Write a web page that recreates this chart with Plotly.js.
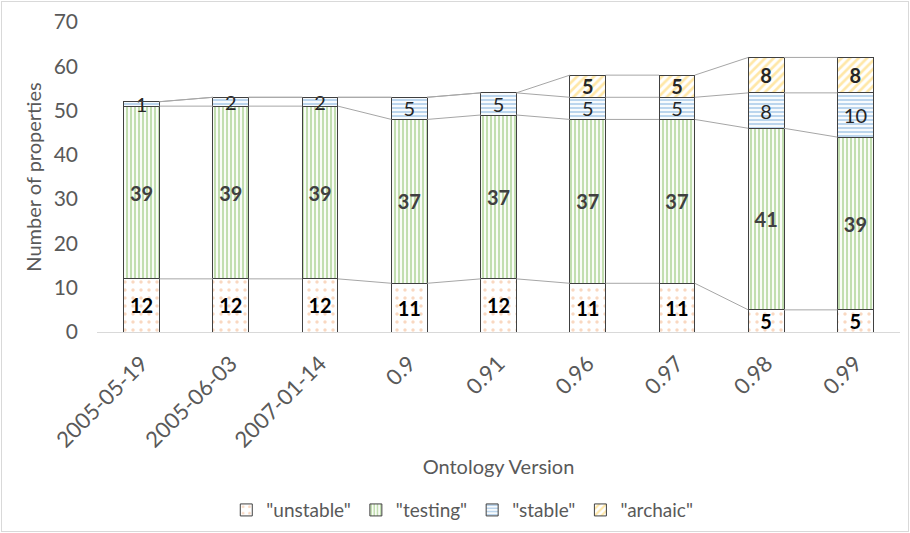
<!DOCTYPE html>
<html><head><meta charset="utf-8">
<script src="https://cdn.plot.ly/plotly-3.0.1.min.js"></script>
<style>
html,body{margin:0;padding:0;background:#fff;}
#frame{position:absolute;left:1px;top:1px;width:906px;height:529px;border:1px solid #d9d9d9;}
#chart{position:absolute;left:0;top:0;width:910px;height:533px;}
</style></head>
<body>
<div id="frame"></div>
<div id="chart"></div>
<script>
const versions = ["2005-05-19","2005-06-03","2007-01-14","0.9","0.91","0.96","0.97","0.98","0.99"];
const unstable = [12,12,12,11,12,11,11,5,5];
const testing  = [39,39,39,37,37,37,37,41,39];
const stable   = [1,2,2,5,5,5,5,8,10];
const archaic  = [0,0,0,0,0,5,5,8,8];
const seriesNames = ['"unstable"','"testing"','"stable"','"archaic"'];

const FONT = "Lato, 'Open Sans', sans-serif";
const idx = versions.map((_, i) => i);
const halfW = 0.2;

const styles = [
  {shape: ".", fg: "#f4b183", size: 8, sol: 0.15, txt: "#000000", weight: "bold"},
  {shape: "|", fg: "#86bd62", size: 4, sol: 0.55, txt: "#404040", weight: "bold"},
  {shape: "-", fg: "#78abdc", size: 4, sol: 0.55, txt: "#262626", weight: "normal"},
  {shape: "/", fg: "#ffd04f", size: 6, sol: 0.45, txt: "#262626", weight: "bold"}
];
const allSeries = [unstable, testing, stable, archaic];

const traces = [];
const cum = [];
let run = versions.map(() => 0);
allSeries.forEach(s => { run = run.map((v, i) => v + s[i]); cum.push(run.slice()); });
cum.forEach(c => {
  const xs = [], ys = [];
  for (let i = 0; i < versions.length - 1; i++) {
    xs.push(i + halfW, i + 1 - halfW, null);
    ys.push(c[i], c[i + 1], null);
  }
  traces.push({type: "scatter", mode: "lines", x: xs, y: ys, showlegend: false,
    hoverinfo: "skip", line: {color: "#a6a6a6", width: 1}, cliponaxis: false});
});

allSeries.forEach((s, k) => {
  const st = styles[k];
  traces.push({
    type: "bar", name: seriesNames[k], x: idx, y: s, width: 2 * halfW,
    text: s.map(v => v ? String(v) : ""),
    textposition: "inside", insidetextanchor: "middle", textangle: 0,
    constraintext: "none",
    textfont: {family: FONT, size: 20, color: st.txt, weight: st.weight},
    marker: {color: "#ffffff", line: {color: "#404040", width: 1},
      pattern: {shape: st.shape, fgcolor: st.fg, bgcolor: "#ffffff", size: st.size, solidity: st.sol, fillmode: "overlay"}},
    hoverinfo: "skip"
  });
});

const layout = {
  width: 910, height: 533,
  margin: {l: 97, r: 10, t: 22, b: 201},
  paper_bgcolor: "rgba(0,0,0,0)", plot_bgcolor: "rgba(0,0,0,0)",
  barmode: "stack",
  font: {family: FONT, color: "#595959"},
  xaxis: {
    range: [-0.5, versions.length - 0.5], tickmode: "array", tickvals: idx, ticktext: versions,
    tickangle: -45, tickfont: {size: 22, color: "#595959"}, showgrid: false, zeroline: false,
    showline: true, linecolor: "#d9d9d9", linewidth: 1, ticks: "", ticklabelstandoff: 9,
    automargin: false,
    title: {text: "Ontology Version", font: {size: 20, color: "#595959"}, standoff: 8}
  },
  yaxis: {
    range: [0, 70], dtick: 10, tickfont: {size: 21, color: "#595959"}, showgrid: false,
    zeroline: false, showline: false, ticks: "", ticklabelstandoff: 18, automargin: false,
    title: {text: "Number of properties", font: {size: 20, color: "#595959"}, standoff: 6}
  },
  legend: {orientation: "h", xref: "container", yref: "container", x: 0.508, xanchor: "center",
    y: 0.043, yanchor: "middle",
    font: {size: 19, color: "#595959"}, traceorder: "normal", itemwidth: 30},
  showlegend: true
};

Plotly.newPlot("chart", traces, layout, {staticPlot: true, displayModeBar: false});
</script>
</body></html>
